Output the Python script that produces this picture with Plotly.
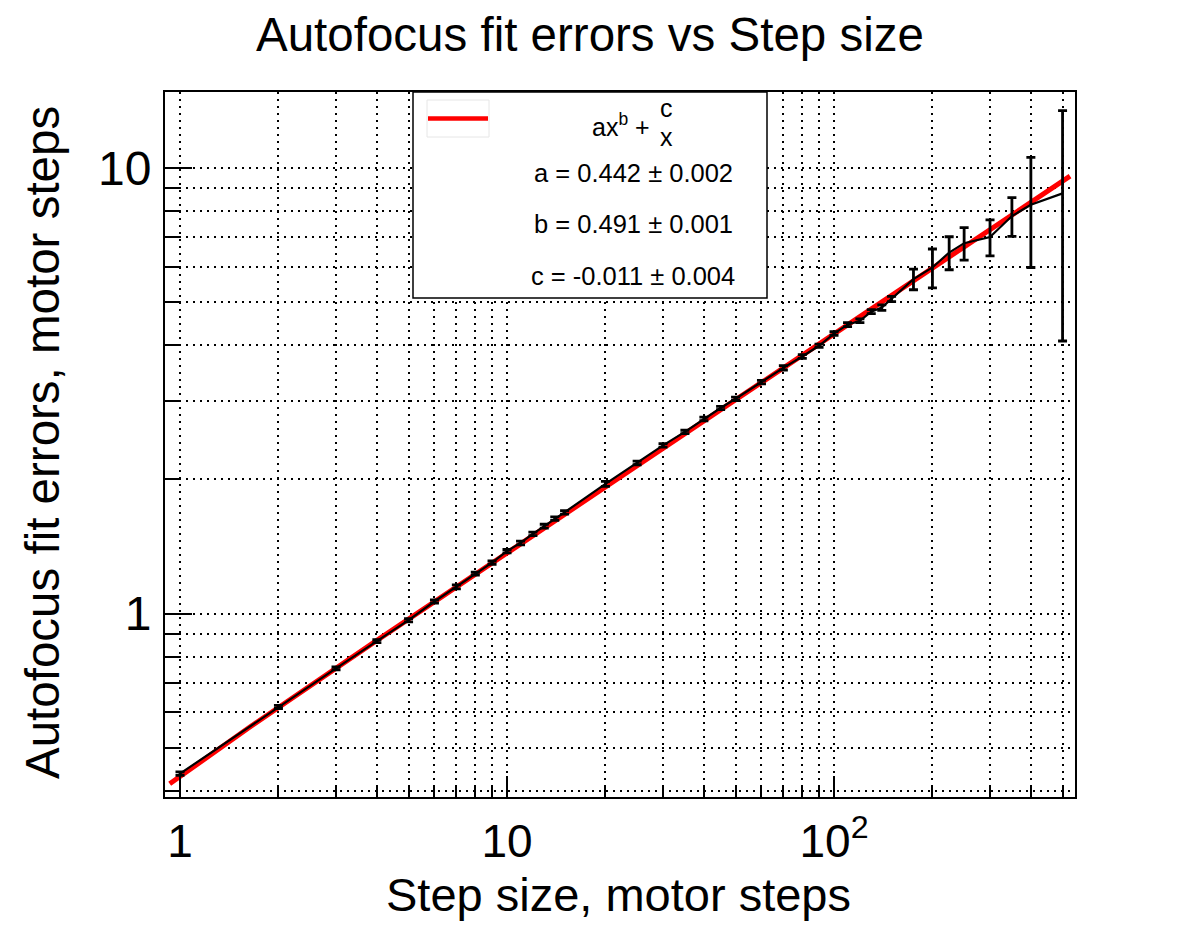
import numpy as np
import plotly.graph_objects as go

# ---- data ----
step_size = [1, 2, 3, 4, 5, 6, 7, 8, 9, 10, 11, 12, 13, 14, 15, 20, 25, 30, 35, 40, 45, 50,
             60, 70, 80, 90, 100, 110, 120, 130, 140, 150, 175, 200, 225, 250, 300, 350, 400, 500]
fit_error = [0.437, 0.617, 0.753, 0.867, 0.966, 1.064, 1.148, 1.229, 1.301, 1.38, 1.44, 1.509,
             1.57, 1.633, 1.687, 1.954, 2.177, 2.384, 2.556, 2.733, 2.892, 3.034, 3.308, 3.56,
             3.775, 3.99, 4.25, 4.45, 4.54, 4.76, 4.86, 5.08, 5.63, 5.98, 6.46, 6.78, 7.0, 7.8,
             8.27, 8.77]
fit_error_err = [0.004, 0.005, 0.006, 0.007, 0.008, 0.009, 0.012, 0.010, 0.011, 0.012, 0.014,
                 0.014, 0.016, 0.015, 0.015, 0.025, 0.020, 0.022, 0.022, 0.025, 0.025, 0.027,
                 0.030, 0.040, 0.035, 0.035, 0.040, 0.045, 0.045, 0.050, 0.070, 0.070, 0.30,
                 0.60, 0.55, 0.57, 0.65, 0.78, 2.29, 4.68]

# fit parameters (from the legend)
fit_a, fit_a_err = 0.442, 0.002
fit_b, fit_b_err = 0.491, 0.001
fit_c, fit_c_err = -0.011, 0.004
fit_range = [0.93, 527]

x_major = [1, 10, 100]
x_major_text = ["1", "10", "10<sup>2</sup>"]
x_minor = [2, 3, 4, 5, 6, 7, 8, 9, 20, 30, 40, 50, 60, 70, 80, 90, 200, 300, 400, 500]
y_major = [1, 10]
y_major_text = ["1", "10"]
y_minor = [0.4, 0.5, 0.6, 0.7, 0.8, 0.9, 2, 3, 4, 5, 6, 7, 8, 9]

FONT = "Liberation Sans"
W, H = 1182, 938
L, R, T, B = 165, 1075, 92, 797


def px(x):
    return (x - L) / (R - L)


def py(y):
    return (B - y) / (B - T)


fx = np.logspace(np.log10(fit_range[0]), np.log10(fit_range[1]), 400)
fy = fit_a * fx ** fit_b + fit_c / fx

fig = go.Figure()
fig.add_trace(go.Scatter(x=fx, y=fy, mode="lines",
                         line=dict(color="#ff0000", width=5), showlegend=False,
                         hoverinfo="skip"))
fig.add_trace(go.Scatter(x=step_size, y=fit_error, mode="lines",
                         line=dict(color="black", width=2.2),
                         error_y=dict(type="data", array=fit_error_err, visible=True,
                                      color="black", thickness=2.8, width=4.5),
                         showlegend=False))

grid_dash = "2px,5px"
fig.update_xaxes(type="log", range=[(L - 180) / 327, (R - 180) / 327],
                 showline=True, linecolor="black", linewidth=2, mirror=True,
                 tickmode="array", tickvals=x_major, ticktext=x_major_text,
                 ticks="inside", ticklen=21, tickwidth=1.5, tickcolor="black",
                 showgrid=True, gridcolor="black", gridwidth=1.5, griddash=grid_dash,
                 tickfont=dict(family=FONT, size=46, color="black"),
                 ticklabelstandoff=3,
                 minor=dict(tickmode="array", tickvals=x_minor, ticks="inside", ticklen=11,
                            tickwidth=1.5, tickcolor="black", showgrid=True,
                            gridcolor="black", gridwidth=1.5, griddash=grid_dash),
                 zeroline=False)
fig.update_yaxes(type="log", range=[(613.5 - B) / 445.5, (613.5 - T) / 445.5],
                 showline=True, linecolor="black", linewidth=2, mirror=True,
                 tickmode="array", tickvals=y_major, ticktext=y_major_text,
                 ticks="inside", ticklen=27, tickwidth=1.5, tickcolor="black",
                 showgrid=True, gridcolor="black", gridwidth=1.5, griddash=grid_dash,
                 tickfont=dict(family=FONT, size=48, color="black"),
                 ticklabelstandoff=2,
                 minor=dict(tickmode="array", tickvals=y_minor, ticks="inside", ticklen=14,
                            tickwidth=1.5, tickcolor="black", showgrid=True,
                            gridcolor="black", gridwidth=1.5, griddash=grid_dash),
                 zeroline=False)

shapes = [
    dict(type="rect", xref="paper", yref="paper", x0=px(413), x1=px(767), y0=py(298), y1=py(92),
         fillcolor="white", line=dict(color="black", width=1.5), layer="above"),
    dict(type="rect", xref="paper", yref="paper", x0=px(427), x1=px(489), y0=py(137), y1=py(100),
         fillcolor="white", line=dict(color="#e6e6e6", width=1), layer="above"),
    dict(type="line", xref="paper", yref="paper", x0=px(428), x1=px(488), y0=py(118.5), y1=py(118.5),
         line=dict(color="#ff0000", width=4.5), layer="above"),
]

ann = []


def text(s, x, y, size, **kw):
    ann.append(dict(text=s, x=px(x), y=py(y), xref="paper", yref="paper", showarrow=False,
                    font=dict(family=FONT, size=size, color="black"), **kw))


text("Autofocus fit errors vs Step size", 590, 35, 47.5, xanchor="center", yanchor="middle")
text("Step size, motor steps", 618, 894, 47, xanchor="center", yanchor="middle")
text("Autofocus fit errors, motor steps", 42, 443, 47.5, xanchor="center", yanchor="middle",
     textangle=-90)
text("ax<sup>b</sup> +", 621, 125, 25, xanchor="center", yanchor="middle")
text("c", 666, 108, 25, xanchor="center", yanchor="middle")
text("x", 666, 137, 25, xanchor="center", yanchor="middle")
text(f"a = {fit_a:.3f} ± {fit_a_err:.3f}", 633, 173, 25.5, xanchor="center", yanchor="middle")
text(f"b = {fit_b:.3f} ± {fit_b_err:.3f}", 633, 224, 25.5, xanchor="center", yanchor="middle")
text(f"c = {fit_c:.3f} ± {fit_c_err:.3f}", 633, 276, 25.5, xanchor="center", yanchor="middle")

fig.update_layout(width=W, height=H, margin=dict(l=L, r=W - R, t=T, b=H - B),
                  paper_bgcolor="white", plot_bgcolor="white",
                  shapes=shapes, annotations=ann, showlegend=False)

fig.write_html("out.html")
